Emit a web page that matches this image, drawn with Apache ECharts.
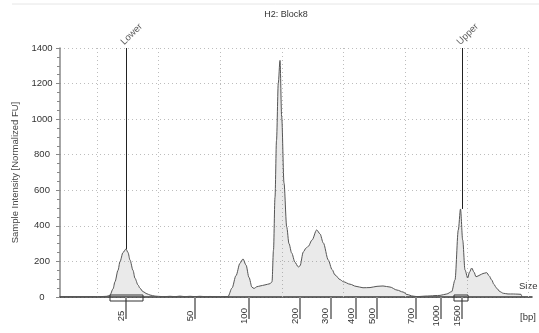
<!DOCTYPE html>
<html>
<head>
<meta charset="utf-8">
<script src="https://cdn.jsdelivr.net/npm/echarts@6/dist/echarts.min.js"></script>
<style>
  html, body { margin: 0; padding: 0; background: #fff; }
  #chart { width: 539px; height: 333px; }
</style>
</head>
<body>
<div id="chart"></div>
<script>
// Electropherogram trace: migration position (run units) vs. normalized fluorescence
const migration = [
  0, 20, 40, 47, 50, 53, 55, 58, 60, 63, 66, 68, 70, 73, 75, 78, 80, 83, 87, 90, 95, 100,
  105, 110, 115, 120, 125, 130, 135, 140, 145, 150, 155, 160, 165,
  168, 172, 176, 180, 183, 186, 189, 192, 194, 197, 200, 205, 210, 212,
  213.5, 215, 216.5, 218.3, 220, 221.7, 224, 226.7, 229, 231.7, 235, 238.3, 240,
  243.3, 246, 248.3, 252, 256.7, 260, 263.3, 268.3, 272, 275, 280, 283.3, 290, 296,
  303, 310, 317, 323, 330, 337, 343, 347, 353, 357, 365, 370, 375, 380, 386.7,
  391.7, 395, 398.3, 400.5, 402.7, 405, 407.7, 409.5, 411.7, 414, 416, 418, 420,
  423, 426.7, 429, 431.7, 434, 436.7, 440, 443.3, 448, 453.3, 458, 461, 462
];
const intensity = [
  2, 2, 2, 4, 11, 45, 86, 150, 199, 250, 270, 250, 208, 150, 105, 68, 49, 30, 18, 11, 5, 3,
  2, 4, 2, 5, 2, 4, 2, 4, 2, 3, 2, 2, 2,
  3, 50, 120, 190, 214, 180, 110, 55, 48, 58, 62, 68, 75, 85,
  264, 560, 880, 1203, 1330, 1012, 641, 394, 300, 247, 195, 169, 175,
  253, 275, 285, 320, 377, 355, 304, 208, 155, 124, 98, 86, 72, 60,
  52, 53, 60, 62, 56, 39, 28, 14, 5, 2, 5, 6, 8, 9, 17,
  30, 96, 377, 495, 320, 152, 107, 140, 163, 140, 114, 118, 124,
  132, 137, 120, 96, 70, 49, 30, 21, 17, 17, 16, 15, 0
];

// Size ladder (bp) and where each size migrates
const ladderSizes = ['25', '50', '100', '200', '300', '400', '500', '700', '1000', '1500'];
const ladderPos = [66, 135, 189, 240, 270.5, 296, 317, 356, 381, 402];

// Lower / upper markers: position, name, peak height, integration window
const markerNames = ['Lower', 'Upper'];
const markerPos = [66, 402];
const markerPeak = [270, 495];
const markerWindows = [[50, 83], [394, 408]];

// Vertical grid positions
const gridX = [37, 98.5, 160, 222, 283, 345, 407, 468];

const yTicks = { min: 0, max: 1400, interval: 200 };
const xRange = { min: 0, max: 472 };

const FONT = 'Liberation Sans, Arial, sans-serif';

const trace = migration.map((m, i) => [m, intensity[i]]);

const chart = echarts.init(document.getElementById('chart'), null, { renderer: 'canvas' });

chart.setOption({
  animation: false,
  backgroundColor: '#fff',
  textStyle: { fontFamily: FONT },
  title: {
    text: 'H2: Block8',
    left: 281,
    top: 5,
    textAlign: 'center',
    textStyle: { fontFamily: FONT, fontSize: 9, fontWeight: 'normal', color: '#333' }
  },
  graphic: [
    { type: 'line', shape: { x1: 12, y1: 4, x2: 539, y2: 4 }, style: { stroke: '#e6e6e6', lineWidth: 1 }, silent: true },
    { type: 'text', left: 519, top: 281, style: { text: 'Size', fontFamily: FONT, fontSize: 9.5, fill: '#333' } },
    { type: 'text', left: 520, top: 312, style: { text: '[bp]', fontFamily: FONT, fontSize: 9.5, fill: '#333' } }
  ],
  grid: { left: 60, right: 7, top: 48, bottom: 36, containLabel: false },
  xAxis: [
    {
      type: 'value', min: xRange.min, max: xRange.max,
      axisLine: { show: true, onZero: false, lineStyle: { color: '#333', width: 1.5 } },
      axisTick: { show: false },
      axisLabel: { show: false },
      splitLine: { show: false }
    },
    {
      type: 'value', min: xRange.min, max: xRange.max, position: 'bottom', offset: 6,
      axisLine: { show: false },
      axisTick: { show: true, customValues: ladderPos, length: 22, lineStyle: { color: '#8a8a8a', width: 2 } },
      axisLabel: {
        show: true, customValues: ladderPos, rotate: 90, margin: 13,
        align: 'center', verticalAlign: 'bottom',
        fontFamily: FONT, fontSize: 9.5, color: '#333',
        formatter: v => ladderSizes[ladderPos.indexOf(v)]
      },
      splitLine: { show: false }
    }
  ],
  yAxis: {
    type: 'value', min: yTicks.min, max: yTicks.max, interval: yTicks.interval,
    name: 'Sample Intensity [Normalized FU]',
    nameLocation: 'middle', nameGap: 35,
    nameTextStyle: { fontFamily: FONT, fontSize: 9.5, color: '#444' },
    axisLine: { show: true, lineStyle: { color: '#888', width: 1.5 } },
    axisTick: { show: true, length: 4, lineStyle: { color: '#888' } },
    minorTick: { show: true, splitNumber: 4, length: 3, lineStyle: { color: '#888' } },
    axisLabel: {
      fontFamily: FONT, fontSize: 9.5, color: '#333', align: 'center', margin: 18,
      formatter: v => String(v)
    },
    splitLine: { show: true, lineStyle: { color: '#bdbdbd', type: [1, 3], width: 1 } }
  },
  series: [
    {
      type: 'line', name: 'trace', data: trace,
      smooth: 0.3, smoothMonotone: 'x', showSymbol: false, symbol: 'none',
      lineStyle: { color: '#555', width: 1 },
      areaStyle: { color: 'rgba(120,120,120,0.22)' },
      silent: true, z: 2,
      markLine: {
        silent: true, symbol: 'none', label: { show: false },
        lineStyle: { color: '#bdbdbd', type: [1, 3], width: 1 },
        data: gridX.map(x => ({ xAxis: x })),
        z: 1
      }
    },
    {
      type: 'scatter', name: 'markers',
      data: markerPos.map((p, i) => ({ value: [p, yTicks.max], name: markerNames[i] })),
      symbolSize: 0, silent: true, z: 5,
      label: {
        show: true, formatter: '{b}', position: 'top', distance: 1,
        rotate: 45, align: 'left', verticalAlign: 'bottom',
        fontFamily: FONT, fontSize: 9.5, color: '#333'
      },
      markLine: {
        silent: true, symbol: 'none', label: { show: false },
        lineStyle: { color: '#222', width: 1, type: 'solid' },
        data: markerPos.map((p, i) => [{ coord: [p, yTicks.max] }, { coord: [p, markerPeak[i]] }])
      }
    },
    {
      type: 'custom', name: 'windows', silent: true, z: 6,
      data: markerWindows,
      renderItem: (params, api) => {
        const a = api.coord([api.value(0), 0]);
        const b = api.coord([api.value(1), 0]);
        return {
          type: 'rect',
          shape: { x: a[0], y: a[1] - 2, width: b[0] - a[0], height: 6 },
          style: { fill: 'none', stroke: '#333', lineWidth: 1 }
        };
      }
    }
  ]
});
</script>
</body>
</html>
